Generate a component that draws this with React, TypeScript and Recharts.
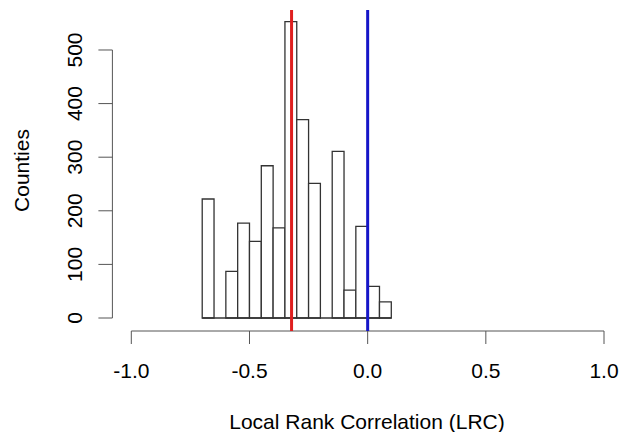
import { ComposedChart, ReferenceArea, ReferenceLine, XAxis, YAxis } from "recharts";

// histogram bins of LRC (width 0.05)
const binStarts = [-0.7, -0.65, -0.6, -0.55, -0.5, -0.45, -0.4, -0.35, -0.3, -0.25, -0.2, -0.15, -0.1, -0.05, 0, 0.05];
const counts = [222, 0, 87, 177, 143, 284, 168, 553, 370, 251, 0, 311, 52, 171, 59, 30];
const binWidth = 0.05;

const xTicks = [-1, -0.5, 0, 0.5, 1];
const yTicks = [0, 100, 200, 300, 400, 500];

const medianLrc = -0.322;
const zeroLrc = 0;

const font = "'Liberation Sans', Arial, sans-serif";

const YTick = (props: any) => {
  const { x, y, payload } = props;
  const bx = x - 14;
  return (
    <text x={bx} y={y} transform={`rotate(-90, ${bx}, ${y})`} textAnchor="middle" fontSize={21} fill="#000" fontFamily={font}>
      {payload.value}
    </text>
  );
};

export default function App() {
  return (
    <div style={{ position: "absolute", left: 0, top: 0, background: "#fff" }}>
      <ComposedChart
        width={619}
        height={432}
        data={[]}
        margin={{ top: 10, right: 0, bottom: 0, left: 0 }}
        style={{ fontFamily: font }}
      >
        <XAxis
          type="number"
          dataKey="x"
          domain={[-1.08, 1.0634]}
          ticks={xTicks}
          allowDataOverflow
          axisLine={false}
          tickSize={13}
          tickMargin={19}
          tickLine={{ stroke: "#555" }}
          tick={{ fontSize: 21, fill: "#000" }}
          tickFormatter={(v: number) => v.toFixed(1)}
          height={101}
          label={{ value: "Local Rank Correlation (LRC)", position: "insideBottom", offset: 3, dx: 1.3, fontSize: 21, fill: "#000" }}
        />
        <YAxis
          type="number"
          domain={[-24.25, 574.6]}
          ticks={yTicks}
          allowDataOverflow
          axisLine={false}
          tickSize={14}
          tickLine={{ stroke: "#555" }}
          tick={<YTick />}
          width={112.4}
          label={{ value: "Counties", angle: -90, position: "insideLeft", offset: 22, fontSize: 21, fill: "#000", style: { textAnchor: "middle" } }}
        />
        {binStarts.map((b, i) =>
          counts[i] > 0 ? (
            <ReferenceArea
              key={i}
              x1={b}
              x2={b + binWidth}
              y1={0}
              y2={counts[i]}
              fill="#fff"
              fillOpacity={1}
              stroke="#333"
              strokeWidth={1.3}
              ifOverflow="visible"
            />
          ) : null
        )}
        <ReferenceLine
          segment={[{ x: binStarts[0], y: 0 }, { x: binStarts[binStarts.length - 1] + binWidth, y: 0 }]}
          stroke="#333"
          strokeWidth={1.3}
          ifOverflow="visible"
        />
        <ReferenceLine segment={[{ x: -1, y: -24.25 }, { x: 1, y: -24.25 }]} stroke="#555" strokeWidth={1} ifOverflow="visible" />
        <ReferenceLine segment={[{ x: -1.08, y: 0 }, { x: -1.08, y: 500 }]} stroke="#555" strokeWidth={1} ifOverflow="visible" />
        <ReferenceLine x={medianLrc} stroke="#DF1F1F" strokeWidth={3} ifOverflow="visible" />
        <ReferenceLine x={zeroLrc} stroke="#1616C8" strokeWidth={3} ifOverflow="visible" />
      </ComposedChart>
    </div>
  );
}
